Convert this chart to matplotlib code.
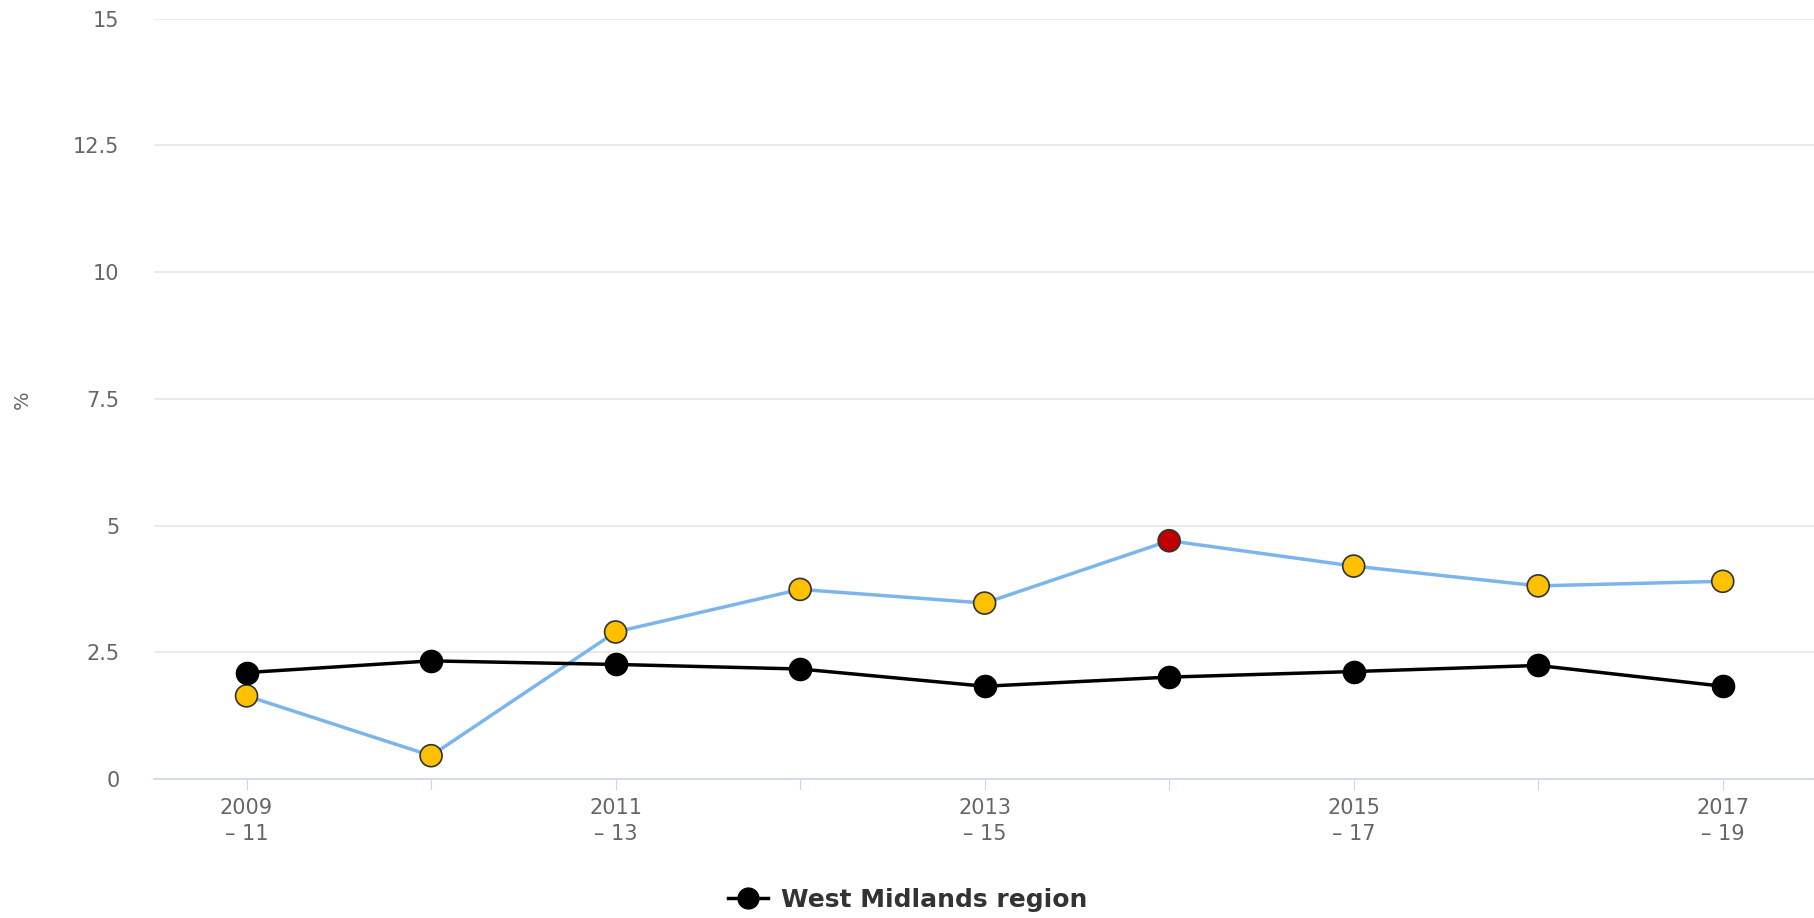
import matplotlib
matplotlib.use("Agg")
import matplotlib.pyplot as plt
import numpy as np
from matplotlib.lines import Line2D

periods = ["2009\n\u2013 11", "2010\n\u2013 12", "2011\n\u2013 13", "2012\n\u2013 14",
           "2013\n\u2013 15", "2014\n\u2013 16", "2015\n\u2013 17", "2016\n\u2013 18",
           "2017\n\u2013 19"]
region = [2.10, 2.33, 2.26, 2.17, 1.83, 2.01, 2.12, 2.24, 1.83]
local = [1.64, 0.46, 2.90, 3.74, 3.47, 4.70, 4.20, 3.81, 3.90]
local_colors = ["#ffc000", "#ffc000", "#ffc000", "#ffc000", "#ffc000",
                "#c00000", "#ffc000", "#ffc000", "#ffc000"]
yticks = [0, 2.5, 5, 7.5, 10, 12.5, 15]

fig = plt.figure(figsize=(18.15, 9.18), dpi=100)
ax = fig.add_axes([0.085, 0.1514, 0.915, 0.8284])

pos = np.arange(len(periods))

ax.plot(pos, local, color="#7cb5ec", lw=2.5, zorder=3)
ax.scatter(pos, local, s=250, c=local_colors, edgecolors="#333333",
           linewidths=1.2, zorder=4)

ax.plot(pos, region, color="black", lw=2.5, marker="o", ms=16,
        markerfacecolor="black", markeredgecolor="black", zorder=5)

ax.set_xlim(-0.5, len(periods) - 0.5)
ax.set_ylim(0, 15)
ax.set_yticks(yticks)
ax.set_yticklabels([f"{t:g}" for t in yticks])
ax.yaxis.grid(True, color="#e6e6e6", lw=1.2)
ax.set_axisbelow(True)

ax.set_xticks(pos)
ax.set_xticklabels([lab if i % 2 == 0 else "" for i, lab in enumerate(periods)],
                   linespacing=1.35)

for s in ["top", "right", "left"]:
    ax.spines[s].set_visible(False)
ax.spines["bottom"].set_color("#ccd6eb")
ax.spines["bottom"].set_linewidth(1.2)

ax.tick_params(axis="y", length=0, pad=25, labelsize=15, labelcolor="#666666")
ax.tick_params(axis="x", length=8, color="#ccd6eb", labelsize=15,
               labelcolor="#666666", pad=6)

fig.text(0.0125, 0.565, "%", rotation=90, fontsize=14, color="#666666",
         ha="center", va="center")

handle = Line2D([0], [0], color="black", lw=2.5, marker="o", ms=15)
fig.legend([handle], ["West Midlands region"], loc="center",
           bbox_to_anchor=(0.5, 0.02), frameon=False,
           prop={"weight": "bold", "size": 18}, labelcolor="#333333",
           handlelength=1.6, handletextpad=0.5)

fig.savefig("out.png", dpi=100)
